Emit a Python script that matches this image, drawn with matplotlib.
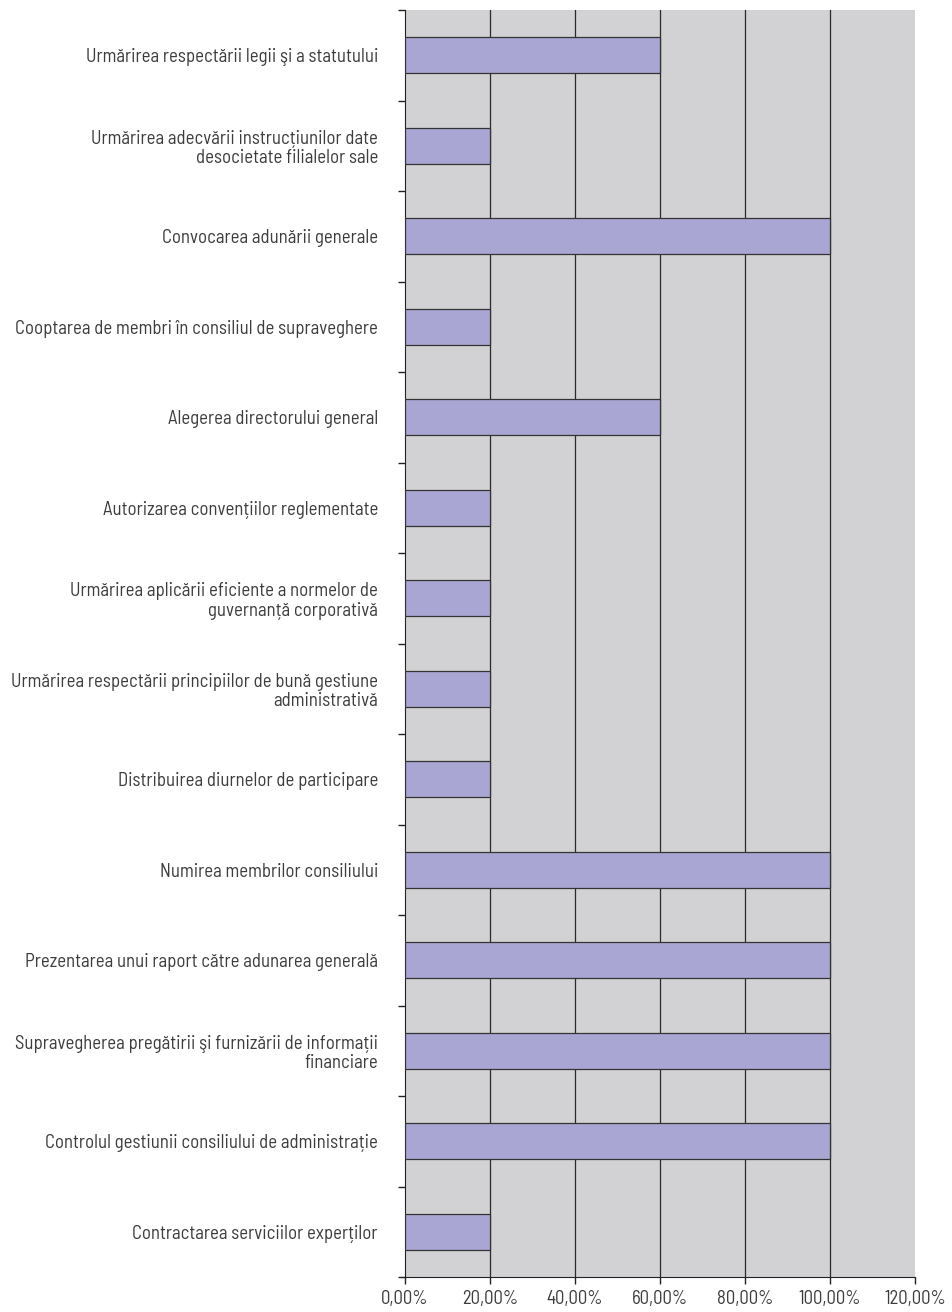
import numpy as np
import matplotlib
matplotlib.use('Agg')
import matplotlib.pyplot as plt
from matplotlib.ticker import FuncFormatter

plt.rcParams['font.family'] = ['Barlow Semi Condensed', 'DejaVu Sans']

categories = [
    'Urmărirea respectării legii şi a statutului',
    'Urmărirea adecvării instrucțiunilor date\ndesocietate filialelor sale',
    'Convocarea adunării generale',
    'Cooptarea de membri în consiliul de supraveghere',
    'Alegerea directorului general',
    'Autorizarea convențiilor reglementate',
    'Urmărirea aplicării eficiente a normelor de\nguvernanță corporativă',
    'Urmărirea respectării principiilor de bună gestiune\nadministrativă',
    'Distribuirea diurnelor de participare',
    'Numirea membrilor consiliului',
    'Prezentarea unui raport către adunarea generală',
    'Supravegherea pregătirii şi furnizării de informații\nfinanciare',
    'Controlul gestiunii consiliului de administrație',
    'Contractarea serviciilor experților',
]
values = [60, 20, 100, 20, 60, 20, 20, 20, 20, 100, 100, 100, 100, 20]
xticks = [0, 20, 40, 60, 80, 100, 120]

text_col = '#3c3c3c'

fig = plt.figure(figsize=(9.52, 13.12), dpi=100)
ax = fig.add_axes([405/952, 35/1312, 510/952, 1267/1312])
ax.set_facecolor('#d2d2d4')

y = np.arange(len(categories))
ax.barh(y, values, height=0.4, color='#a9a6d4', edgecolor='#333333', linewidth=0.9, zorder=3)

ax.set_xlim(0, 120)
ax.set_ylim(len(categories) - 0.5, -0.5)
ax.set_xticks(xticks)
ax.xaxis.set_major_formatter(FuncFormatter(lambda v, p: f'{v:.2f}%'.replace('.', ',')))
for xv in xticks[1:-1]:
    ax.axvline(xv, color='#2a2a2a', linewidth=0.9, zorder=2)

# category labels at centres, tick marks at boundaries
ax.set_yticks(np.arange(len(categories) + 1) - 0.5)
ax.set_yticklabels([])
ax.set_yticks(y, minor=True)
ax.set_yticklabels(categories, minor=True, ha='right', fontsize=13.5, color=text_col, linespacing=1.1)
ax.tick_params(axis='y', which='minor', length=0, pad=19.5)
ax.tick_params(axis='y', which='major', length=5, width=1, color='#222222')
ax.tick_params(axis='x', length=5, width=1, color='#222222', labelsize=13.5, labelcolor=text_col, pad=4)

for s in ['top', 'right']:
    ax.spines[s].set_visible(False)
ax.spines['left'].set_color('#222222')
ax.spines['bottom'].set_color('#222222')
ax.spines['bottom'].set_bounds(-1.05, 120)

fig.savefig('out.png', dpi=100)
